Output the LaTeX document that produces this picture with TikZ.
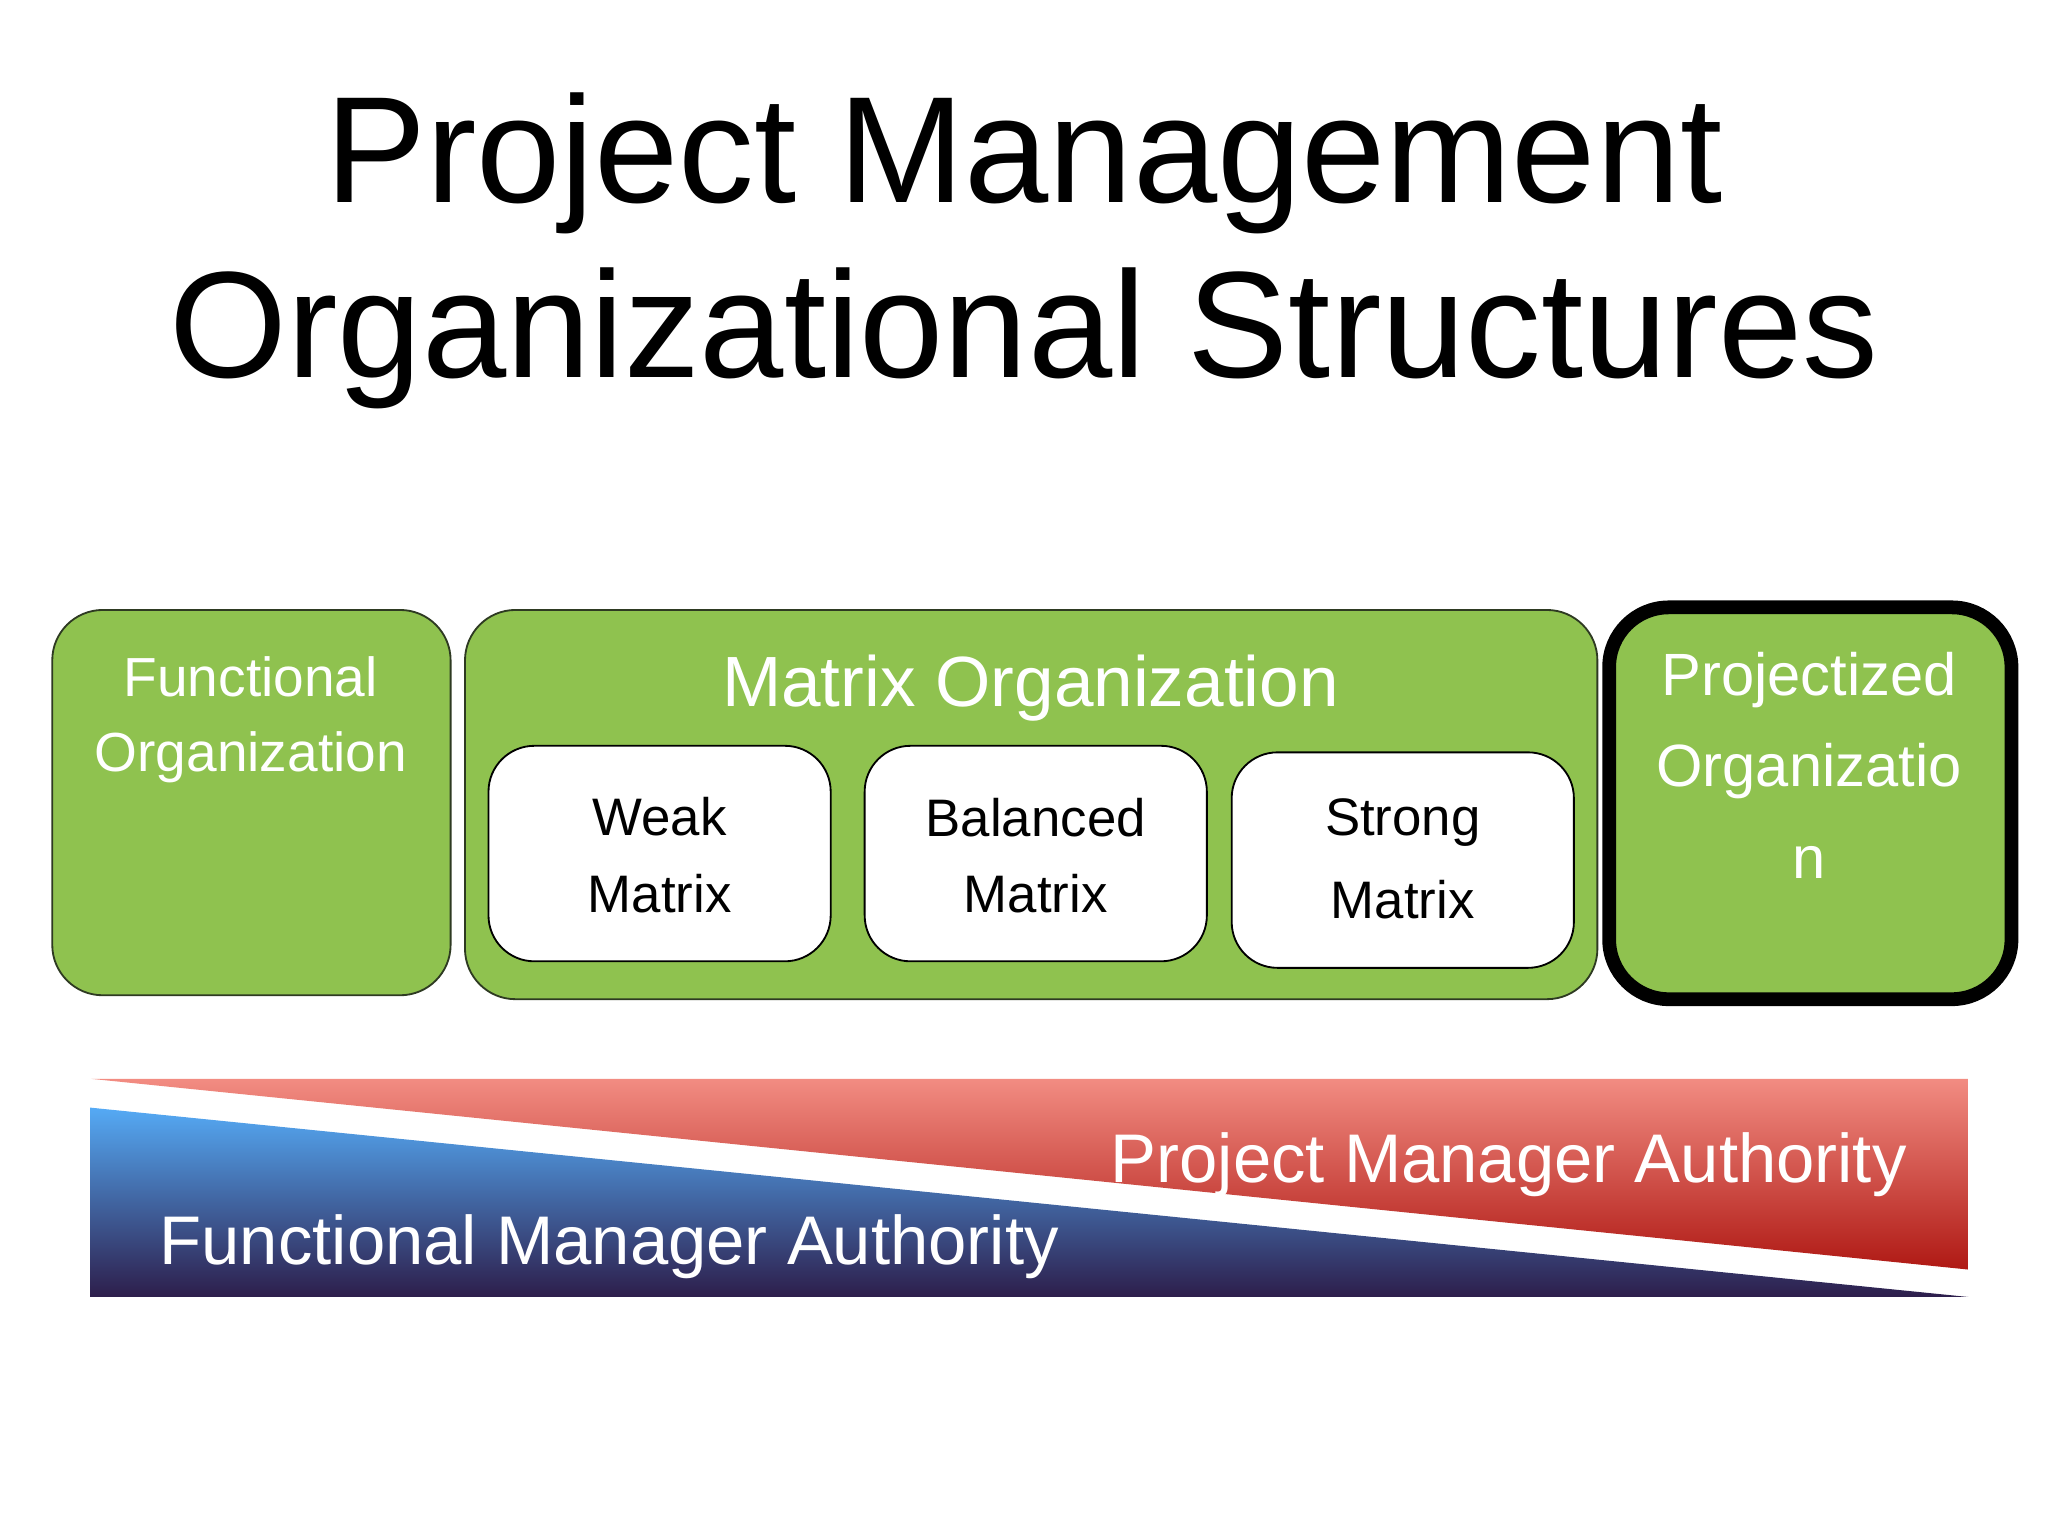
\documentclass[tikz,border=0pt]{standalone}
\usepackage{fontspec}
\setmainfont{Liberation Sans}
\definecolor{grn}{HTML}{8FC24F}
\definecolor{bord}{HTML}{2E3A22}
\begin{document}
\begin{tikzpicture}[x=0.02cm,y=-0.02cm,
  gbox/.style={draw=bord,line width=0.8pt,fill=grn,rounded corners=22pt},
  wbox/.style={draw=black,line width=0.8pt,fill=white,rounded corners=20pt},
  wtxt/.style={text=white,font=\fontsize{24}{24}\selectfont},
  btxt/.style={text=black,font=\fontsize{23}{23}\selectfont}]
\useasboundingbox (0,0) rectangle (1568,1176);
\node[font=\fontsize{66}{76}\selectfont,align=center] (title) at (784,192) {Project Management\\Organizational Structures};
% boxes
\draw[gbox] (40,467) rectangle (345,762);
\draw[gbox] (356,467) rectangle (1223,765);
\draw[gbox,draw=black,line width=6pt,rounded corners=26pt] (1232,465) rectangle (1540,765);
\draw[wbox] (374,571) rectangle (636,736);
\draw[wbox] (662,571) rectangle (924,736);
\draw[wbox] (943,576) rectangle (1205,741);
\node[wtxt] (f1) at (192,518) {Functional};
\node[wtxt] (f2) at (192,580) {Organization};
\node[wtxt,font=\fontsize{31}{31}\selectfont] (m) at (789,527) {Matrix Organization};
\node[wtxt,font=\fontsize{26}{26}\selectfont] (p1) at (1385,521) {Projectized};
\node[wtxt,font=\fontsize{26}{26}\selectfont] (p2) at (1385,590) {Organizatio};
\node[wtxt,font=\fontsize{26}{26}\selectfont] (p3) at (1385,660) {n};
\node[btxt] (w1) at (505,625) {Weak};
\node[btxt] (w2) at (505,684) {Matrix};
\node[btxt] (b1) at (793,626) {Balanced};
\node[btxt] (b2) at (793,684) {Matrix};
\node[btxt] (s1) at (1074,630) {Strong};
\node[btxt] (s2) at (1074,689) {Matrix};
% authority triangles
\shade[top color={rgb,255:red,242;green,140;blue,130},bottom color={rgb,255:red,175;green,25;blue,20}]
  (70,826) -- (1507,826) -- (1507,972) -- cycle;
\shade[top color={rgb,255:red,85;green,170;blue,245},bottom color={rgb,255:red,45;green,30;blue,75}]
  (69,848) -- (1507,993) -- (69,993) -- cycle;
\node[text=white,font=\fontsize{30}{30}\selectfont,anchor=base east] (pa) at (1466,905) {Project Manager Authority};
\node[text=white,font=\fontsize{30}{30}\selectfont,anchor=base west] (fa) at (116,968) {Functional Manager Authority};
\end{tikzpicture}
\end{document}
